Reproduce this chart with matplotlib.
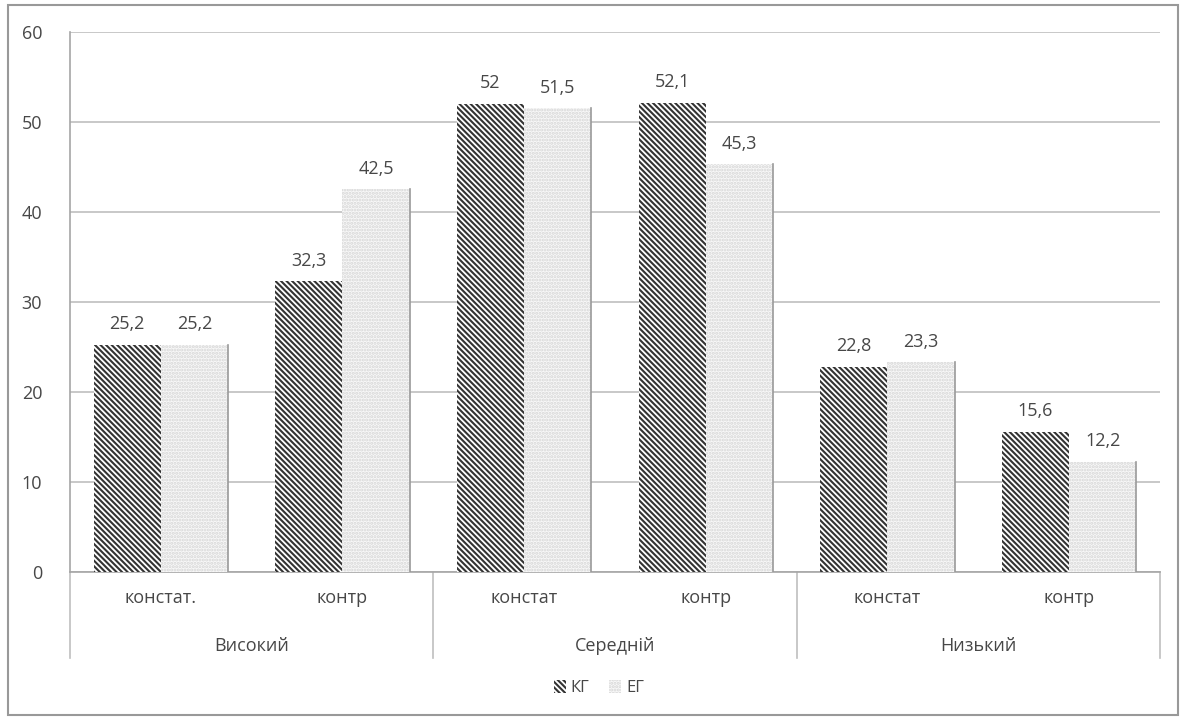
import matplotlib
matplotlib.use("Agg")
import matplotlib.pyplot as plt
from matplotlib.patches import Patch, Rectangle
from matplotlib.lines import Line2D
import numpy as np

plt.rcParams['font.family'] = ['Open Sans', 'DejaVu Sans']
plt.rcParams['hatch.linewidth'] = 1.5

# Data
sub_labels = ["констат.", "контр", "констат", "контр", "констат", "контр"]
group_labels = ["Високий", "Середній", "Низький"]
kg_values = [25.2, 32.3, 52.0, 52.1, 22.8, 15.6]
eg_values = [25.2, 42.5, 51.5, 45.3, 23.3, 12.2]
kg_labels = ["25,2", "32,3", "52", "52,1", "22,8", "15,6"]
eg_labels = ["25,2", "42,5", "51,5", "45,3", "23,3", "12,2"]
series_names = ["КГ", "ЕГ"]
y_ticks = [0, 10, 20, 30, 40, 50, 60]

text_color = "#474747"
grid_color = "#bfbfbf"

fig = plt.figure(figsize=(11.86, 7.22), dpi=100)
ax = fig.add_axes([0.059, 0.2078, 0.919, 0.7479])

x = np.arange(len(sub_labels))
w = 0.37
kg_hatch = "\\\\\\\\\\\\"
eg_hatch = "....."
kg_bars = ax.bar(x - w / 2, kg_values, w, color="white", edgecolor="#333333",
                 hatch=kg_hatch, linewidth=0, zorder=3)
eg_bars = ax.bar(x + w / 2, eg_values, w, color="#f8f8f8", edgecolor="#d6d6d6",
                 hatch=eg_hatch, linewidth=0, zorder=3)
# thin right outline on light bars
for b in eg_bars:
    ax.plot([b.get_x() + b.get_width()] * 2, [0, b.get_height()],
            color="#9a9a9a", lw=1.2, zorder=4)

for b, t in zip(kg_bars, kg_labels):
    ax.text(b.get_x() + b.get_width() / 2, b.get_height() + 1.3, t,
            ha="center", va="bottom", fontsize=13, color=text_color)
for b, t in zip(eg_bars, eg_labels):
    ax.text(b.get_x() + b.get_width() / 2, b.get_height() + 1.3, t,
            ha="center", va="bottom", fontsize=13, color=text_color)

ax.set_xlim(-0.5, len(sub_labels) - 0.5)
ax.set_ylim(0, 60)
ax.set_yticks(y_ticks)
ax.set_yticklabels([str(v) for v in y_ticks], fontsize=13, color=text_color)
ax.yaxis.grid(True, color=grid_color, lw=1.2, zorder=0)
ax.tick_params(axis="y", length=0, pad=20)
ax.set_xticks(x)
ax.set_xticklabels(sub_labels, fontsize=13, color=text_color)
ax.tick_params(axis="x", length=0, pad=12)

for s in ["top", "right"]:
    ax.spines[s].set_visible(False)
ax.spines["left"].set_color("#a6a6a6")
ax.spines["left"].set_linewidth(1.2)
ax.spines["bottom"].set_color("#a6a6a6")
ax.spines["bottom"].set_linewidth(1.2)

# group labels and separators below the axis
trans = ax.get_xaxis_transform()
for i, g in enumerate(group_labels):
    ax.text(2 * i + 0.5, -0.138, g, transform=trans, ha="center", va="center",
            fontsize=13, color=text_color)
for xs in [-0.5, 1.5, 3.5, 5.5]:
    ax.add_line(Line2D([xs, xs], [0, -0.16], transform=trans, color="#bfbfbf",
                       lw=1.2, clip_on=False))

handles = [Patch(facecolor="white", edgecolor="#333333", hatch=kg_hatch, lw=0),
           Patch(facecolor="#f8f8f8", edgecolor="#d6d6d6", hatch=eg_hatch, lw=0)]
fig.legend(handles, series_names, loc="center", bbox_to_anchor=(0.505, 0.047),
           ncol=2, frameon=False, fontsize=12, handlelength=0.7, handleheight=0.8,
           columnspacing=1.2, handletextpad=0.3, labelcolor=text_color)

fig.add_artist(Rectangle((0.007, 0.01), 0.986, 0.983, transform=fig.transFigure,
                         fill=False, edgecolor="#999999", lw=1.5))

fig.savefig("out.png", dpi=100, facecolor="white")
